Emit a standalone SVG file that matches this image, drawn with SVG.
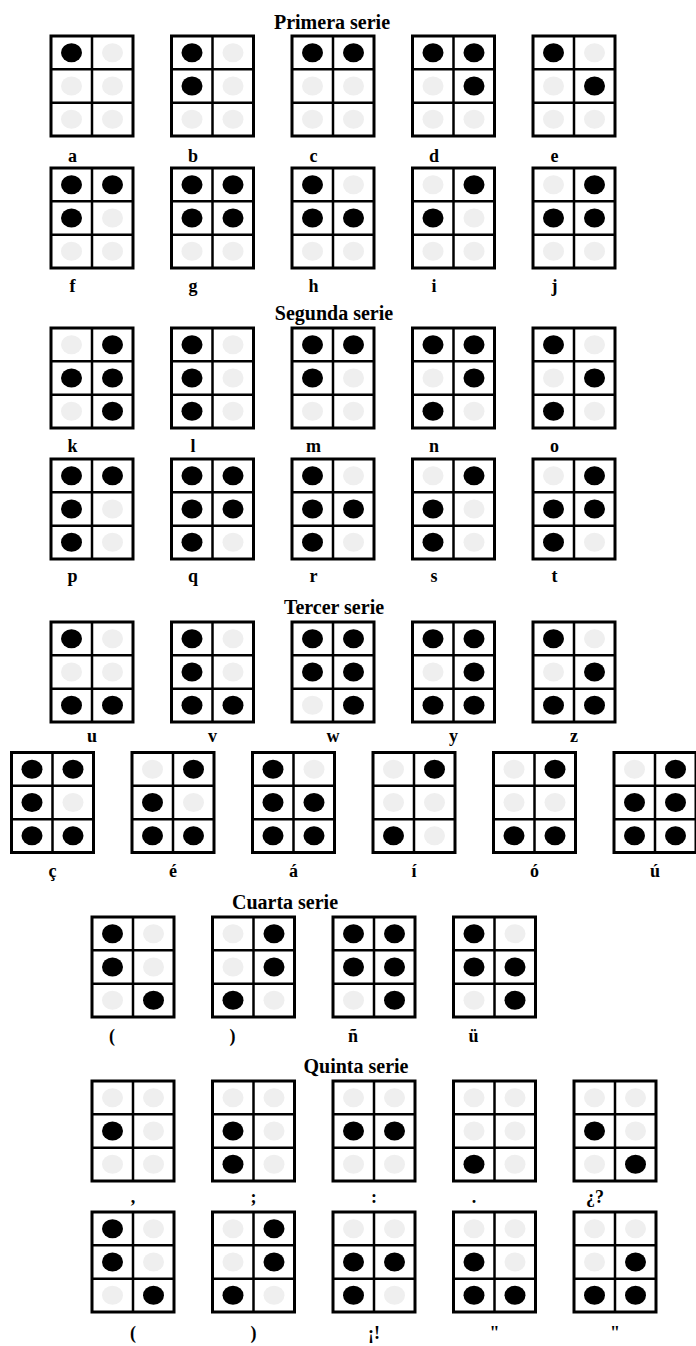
<svg xmlns="http://www.w3.org/2000/svg" xmlns:xlink="http://www.w3.org/1999/xlink" width="696" height="1346" viewBox="0 0 696 1346">
<style>
.t{font-family:"Liberation Serif","Times New Roman",serif;font-weight:bold;font-size:20px;fill:#000;text-anchor:middle}
.l{font-family:"Liberation Serif","Times New Roman",serif;font-weight:bold;font-size:18px;fill:#000;text-anchor:middle}
.on{fill:#000}
.off{fill:#efefef}
.gl{stroke:#000;stroke-width:2.5;fill:none}
</style>
<defs>
<g id="grid">
<rect x="0" y="0" width="82" height="100" fill="#fff" stroke="#000" stroke-width="3"/>
<line class="gl" x1="41" y1="0" x2="41" y2="100"/>
<line class="gl" x1="0" y1="33.3" x2="82" y2="33.3"/>
<line class="gl" x1="0" y1="66.7" x2="82" y2="66.7"/>
</g>
<ellipse id="d1" cx="20.5" cy="16.7" rx="10.5" ry="9.5"/>
<ellipse id="d2" cx="20.5" cy="50" rx="10.5" ry="9.5"/>
<ellipse id="d3" cx="20.5" cy="83.3" rx="10.5" ry="9.5"/>
<ellipse id="d4" cx="61.5" cy="16.7" rx="10.5" ry="9.5"/>
<ellipse id="d5" cx="61.5" cy="50" rx="10.5" ry="9.5"/>
<ellipse id="d6" cx="61.5" cy="83.3" rx="10.5" ry="9.5"/>
</defs>
<rect width="696" height="1346" fill="#fff"/>

<g id="titles">
<text class="t" x="332" y="28.5">Primera serie</text>
<text class="t" x="334" y="320">Segunda serie</text>
<text class="t" x="334" y="614">Tercer serie</text>
<text class="t" x="285" y="909">Cuarta serie</text>
<text class="t" x="356" y="1073">Quinta serie</text>
</g>

<g id="connectors"></g>

<!-- Row 1 -->
<g id="cell-a" transform="translate(51,36)"><use href="#grid"/><use href="#d1" class="on"/><use href="#d2" class="off"/><use href="#d3" class="off"/><use href="#d4" class="off"/><use href="#d5" class="off"/><use href="#d6" class="off"/></g>
<g id="cell-b" transform="translate(171.5,36)"><use href="#grid"/><use href="#d1" class="on"/><use href="#d2" class="on"/><use href="#d3" class="off"/><use href="#d4" class="off"/><use href="#d5" class="off"/><use href="#d6" class="off"/></g>
<g id="cell-c" transform="translate(292,36)"><use href="#grid"/><use href="#d1" class="on"/><use href="#d2" class="off"/><use href="#d3" class="off"/><use href="#d4" class="on"/><use href="#d5" class="off"/><use href="#d6" class="off"/></g>
<g id="cell-d" transform="translate(412.5,36)"><use href="#grid"/><use href="#d1" class="on"/><use href="#d2" class="off"/><use href="#d3" class="off"/><use href="#d4" class="on"/><use href="#d5" class="on"/><use href="#d6" class="off"/></g>
<g id="cell-e" transform="translate(533,36)"><use href="#grid"/><use href="#d1" class="on"/><use href="#d2" class="off"/><use href="#d3" class="off"/><use href="#d4" class="off"/><use href="#d5" class="on"/><use href="#d6" class="off"/></g>
<g id="labels-row1">
<text class="l" x="72.5" y="161.5">a</text><text class="l" x="193" y="161.5">b</text><text class="l" x="313.5" y="161.5">c</text><text class="l" x="434" y="161.5">d</text><text class="l" x="554.5" y="161.5">e</text>
</g>

<!-- Row 2 -->
<g id="cell-f" transform="translate(51,168)"><use href="#grid"/><use href="#d1" class="on"/><use href="#d2" class="on"/><use href="#d3" class="off"/><use href="#d4" class="on"/><use href="#d5" class="off"/><use href="#d6" class="off"/></g>
<g id="cell-g" transform="translate(171.5,168)"><use href="#grid"/><use href="#d1" class="on"/><use href="#d2" class="on"/><use href="#d3" class="off"/><use href="#d4" class="on"/><use href="#d5" class="on"/><use href="#d6" class="off"/></g>
<g id="cell-h" transform="translate(292,168)"><use href="#grid"/><use href="#d1" class="on"/><use href="#d2" class="on"/><use href="#d3" class="off"/><use href="#d4" class="off"/><use href="#d5" class="on"/><use href="#d6" class="off"/></g>
<g id="cell-i" transform="translate(412.5,168)"><use href="#grid"/><use href="#d1" class="off"/><use href="#d2" class="on"/><use href="#d3" class="off"/><use href="#d4" class="on"/><use href="#d5" class="off"/><use href="#d6" class="off"/></g>
<g id="cell-j" transform="translate(533,168)"><use href="#grid"/><use href="#d1" class="off"/><use href="#d2" class="on"/><use href="#d3" class="off"/><use href="#d4" class="on"/><use href="#d5" class="on"/><use href="#d6" class="off"/></g>
<g id="labels-row2">
<text class="l" x="72.5" y="291.5">f</text><text class="l" x="193" y="291.5">g</text><text class="l" x="313.5" y="291.5">h</text><text class="l" x="434" y="291.5">i</text><text class="l" x="554.5" y="291.5">j</text>
</g>

<!-- Row 3 -->
<g id="cell-k" transform="translate(51,328)"><use href="#grid"/><use href="#d1" class="off"/><use href="#d2" class="on"/><use href="#d3" class="off"/><use href="#d4" class="on"/><use href="#d5" class="on"/><use href="#d6" class="on"/></g>
<g id="cell-l" transform="translate(171.5,328)"><use href="#grid"/><use href="#d1" class="on"/><use href="#d2" class="on"/><use href="#d3" class="on"/><use href="#d4" class="off"/><use href="#d5" class="off"/><use href="#d6" class="off"/></g>
<g id="cell-m" transform="translate(292,328)"><use href="#grid"/><use href="#d1" class="on"/><use href="#d2" class="on"/><use href="#d3" class="off"/><use href="#d4" class="on"/><use href="#d5" class="off"/><use href="#d6" class="off"/></g>
<g id="cell-n" transform="translate(412.5,328)"><use href="#grid"/><use href="#d1" class="on"/><use href="#d2" class="off"/><use href="#d3" class="on"/><use href="#d4" class="on"/><use href="#d5" class="on"/><use href="#d6" class="off"/></g>
<g id="cell-o" transform="translate(533,328)"><use href="#grid"/><use href="#d1" class="on"/><use href="#d2" class="off"/><use href="#d3" class="on"/><use href="#d4" class="off"/><use href="#d5" class="on"/><use href="#d6" class="off"/></g>
<g id="labels-row3">
<text class="l" x="72.5" y="451.5">k</text><text class="l" x="193" y="451.5">l</text><text class="l" x="313.5" y="451.5">m</text><text class="l" x="434" y="451.5">n</text><text class="l" x="554.5" y="451.5">o</text>
</g>

<!-- Row 4 -->
<g id="cell-p" transform="translate(51,459)"><use href="#grid"/><use href="#d1" class="on"/><use href="#d2" class="on"/><use href="#d3" class="on"/><use href="#d4" class="on"/><use href="#d5" class="off"/><use href="#d6" class="off"/></g>
<g id="cell-q" transform="translate(171.5,459)"><use href="#grid"/><use href="#d1" class="on"/><use href="#d2" class="on"/><use href="#d3" class="on"/><use href="#d4" class="on"/><use href="#d5" class="on"/><use href="#d6" class="off"/></g>
<g id="cell-r" transform="translate(292,459)"><use href="#grid"/><use href="#d1" class="on"/><use href="#d2" class="on"/><use href="#d3" class="on"/><use href="#d4" class="off"/><use href="#d5" class="on"/><use href="#d6" class="off"/></g>
<g id="cell-s" transform="translate(412.5,459)"><use href="#grid"/><use href="#d1" class="off"/><use href="#d2" class="on"/><use href="#d3" class="on"/><use href="#d4" class="on"/><use href="#d5" class="off"/><use href="#d6" class="off"/></g>
<g id="cell-t" transform="translate(533,459)"><use href="#grid"/><use href="#d1" class="off"/><use href="#d2" class="on"/><use href="#d3" class="on"/><use href="#d4" class="on"/><use href="#d5" class="on"/><use href="#d6" class="off"/></g>
<g id="labels-row4">
<text class="l" x="72.5" y="582">p</text><text class="l" x="193" y="582">q</text><text class="l" x="313.5" y="582">r</text><text class="l" x="434" y="582">s</text><text class="l" x="554.5" y="582">t</text>
</g>

<!-- Row 5 -->
<g id="cell-u" transform="translate(51,622)"><use href="#grid"/><use href="#d1" class="on"/><use href="#d2" class="off"/><use href="#d3" class="on"/><use href="#d4" class="off"/><use href="#d5" class="off"/><use href="#d6" class="on"/></g>
<g id="cell-v" transform="translate(171.5,622)"><use href="#grid"/><use href="#d1" class="on"/><use href="#d2" class="on"/><use href="#d3" class="on"/><use href="#d4" class="off"/><use href="#d5" class="off"/><use href="#d6" class="on"/></g>
<g id="cell-w" transform="translate(292,622)"><use href="#grid"/><use href="#d1" class="on"/><use href="#d2" class="on"/><use href="#d3" class="off"/><use href="#d4" class="on"/><use href="#d5" class="on"/><use href="#d6" class="on"/></g>
<g id="cell-y" transform="translate(412.5,622)"><use href="#grid"/><use href="#d1" class="on"/><use href="#d2" class="off"/><use href="#d3" class="on"/><use href="#d4" class="on"/><use href="#d5" class="on"/><use href="#d6" class="on"/></g>
<g id="cell-z" transform="translate(533,622)"><use href="#grid"/><use href="#d1" class="on"/><use href="#d2" class="off"/><use href="#d3" class="on"/><use href="#d4" class="off"/><use href="#d5" class="on"/><use href="#d6" class="on"/></g>
<g id="labels-row5">
<text class="l" x="92" y="741.5">u</text><text class="l" x="212.5" y="741.5">v</text><text class="l" x="333" y="741.5">w</text><text class="l" x="453.5" y="741.5">y</text><text class="l" x="574" y="741.5">z</text>
</g>

<!-- Row 6 -->
<g id="cell-c-cedilla" transform="translate(11.5,752.5)"><use href="#grid"/><use href="#d1" class="on"/><use href="#d2" class="on"/><use href="#d3" class="on"/><use href="#d4" class="on"/><use href="#d5" class="off"/><use href="#d6" class="on"/></g>
<g id="cell-e-acute" transform="translate(132,752.5)"><use href="#grid"/><use href="#d1" class="off"/><use href="#d2" class="on"/><use href="#d3" class="on"/><use href="#d4" class="on"/><use href="#d5" class="off"/><use href="#d6" class="on"/></g>
<g id="cell-a-acute" transform="translate(252.5,752.5)"><use href="#grid"/><use href="#d1" class="on"/><use href="#d2" class="on"/><use href="#d3" class="on"/><use href="#d4" class="off"/><use href="#d5" class="on"/><use href="#d6" class="on"/></g>
<g id="cell-i-acute" transform="translate(373,752.5)"><use href="#grid"/><use href="#d1" class="off"/><use href="#d2" class="off"/><use href="#d3" class="on"/><use href="#d4" class="on"/><use href="#d5" class="off"/><use href="#d6" class="off"/></g>
<g id="cell-o-acute" transform="translate(493.5,752.5)"><use href="#grid"/><use href="#d1" class="off"/><use href="#d2" class="off"/><use href="#d3" class="on"/><use href="#d4" class="on"/><use href="#d5" class="off"/><use href="#d6" class="on"/></g>
<g id="cell-u-acute" transform="translate(614,752.5)"><use href="#grid"/><use href="#d1" class="off"/><use href="#d2" class="on"/><use href="#d3" class="on"/><use href="#d4" class="on"/><use href="#d5" class="on"/><use href="#d6" class="on"/></g>
<g id="labels-row6">
<text class="l" x="52.5" y="877">ç</text><text class="l" x="173" y="877">é</text><text class="l" x="293.5" y="877">á</text><text class="l" x="414" y="877">í</text><text class="l" x="534.5" y="877">ó</text><text class="l" x="655" y="877">ú</text>
</g>

<!-- Row 7 -->
<g id="cell-paren-open-4" transform="translate(92,917)"><use href="#grid"/><use href="#d1" class="on"/><use href="#d2" class="on"/><use href="#d3" class="off"/><use href="#d4" class="off"/><use href="#d5" class="off"/><use href="#d6" class="on"/></g>
<g id="cell-paren-close-4" transform="translate(212.5,917)"><use href="#grid"/><use href="#d1" class="off"/><use href="#d2" class="off"/><use href="#d3" class="on"/><use href="#d4" class="on"/><use href="#d5" class="on"/><use href="#d6" class="off"/></g>
<g id="cell-n-tilde" transform="translate(333,917)"><use href="#grid"/><use href="#d1" class="on"/><use href="#d2" class="on"/><use href="#d3" class="off"/><use href="#d4" class="on"/><use href="#d5" class="on"/><use href="#d6" class="on"/></g>
<g id="cell-u-diaeresis" transform="translate(453.5,917)"><use href="#grid"/><use href="#d1" class="on"/><use href="#d2" class="on"/><use href="#d3" class="off"/><use href="#d4" class="off"/><use href="#d5" class="on"/><use href="#d6" class="on"/></g>
<g id="labels-row7">
<text class="l" x="112" y="1042">(</text><text class="l" x="232.5" y="1042">)</text><text class="l" x="353" y="1042">ñ</text><text class="l" x="473.5" y="1042">ü</text>
</g>

<!-- Row 8 -->
<g id="cell-comma" transform="translate(92,1081)"><use href="#grid"/><use href="#d1" class="off"/><use href="#d2" class="on"/><use href="#d3" class="off"/><use href="#d4" class="off"/><use href="#d5" class="off"/><use href="#d6" class="off"/></g>
<g id="cell-semicolon" transform="translate(212.5,1081)"><use href="#grid"/><use href="#d1" class="off"/><use href="#d2" class="on"/><use href="#d3" class="on"/><use href="#d4" class="off"/><use href="#d5" class="off"/><use href="#d6" class="off"/></g>
<g id="cell-colon" transform="translate(333,1081)"><use href="#grid"/><use href="#d1" class="off"/><use href="#d2" class="on"/><use href="#d3" class="off"/><use href="#d4" class="off"/><use href="#d5" class="on"/><use href="#d6" class="off"/></g>
<g id="cell-period" transform="translate(453.5,1081)"><use href="#grid"/><use href="#d1" class="off"/><use href="#d2" class="off"/><use href="#d3" class="on"/><use href="#d4" class="off"/><use href="#d5" class="off"/><use href="#d6" class="off"/></g>
<g id="cell-question" transform="translate(574,1081)"><use href="#grid"/><use href="#d1" class="off"/><use href="#d2" class="on"/><use href="#d3" class="off"/><use href="#d4" class="off"/><use href="#d5" class="off"/><use href="#d6" class="on"/></g>
<g id="labels-row8">
<text class="l" x="133" y="1203">,</text><text class="l" x="253.5" y="1203">;</text><text class="l" x="374" y="1203">:</text><text class="l" x="474" y="1203">.</text><text class="l" x="595" y="1203">¿?</text>
</g>

<!-- Row 9 -->
<g id="cell-paren-open-5" transform="translate(92,1212)"><use href="#grid"/><use href="#d1" class="on"/><use href="#d2" class="on"/><use href="#d3" class="off"/><use href="#d4" class="off"/><use href="#d5" class="off"/><use href="#d6" class="on"/></g>
<g id="cell-paren-close-5" transform="translate(212.5,1212)"><use href="#grid"/><use href="#d1" class="off"/><use href="#d2" class="off"/><use href="#d3" class="on"/><use href="#d4" class="on"/><use href="#d5" class="on"/><use href="#d6" class="off"/></g>
<g id="cell-exclamation" transform="translate(333,1212)"><use href="#grid"/><use href="#d1" class="off"/><use href="#d2" class="on"/><use href="#d3" class="on"/><use href="#d4" class="off"/><use href="#d5" class="on"/><use href="#d6" class="off"/></g>
<g id="cell-quote-open" transform="translate(453.5,1212)"><use href="#grid"/><use href="#d1" class="off"/><use href="#d2" class="on"/><use href="#d3" class="on"/><use href="#d4" class="off"/><use href="#d5" class="off"/><use href="#d6" class="on"/></g>
<g id="cell-quote-close" transform="translate(574,1212)"><use href="#grid"/><use href="#d1" class="off"/><use href="#d2" class="off"/><use href="#d3" class="on"/><use href="#d4" class="off"/><use href="#d5" class="on"/><use href="#d6" class="on"/></g>
<g id="labels-row9">
<text class="l" x="133" y="1339">(</text><text class="l" x="253.5" y="1339">)</text><text class="l" x="374" y="1339">¡!</text><text class="l" x="494.5" y="1339">"</text><text class="l" x="615" y="1339">"</text>
</g>
</svg>
